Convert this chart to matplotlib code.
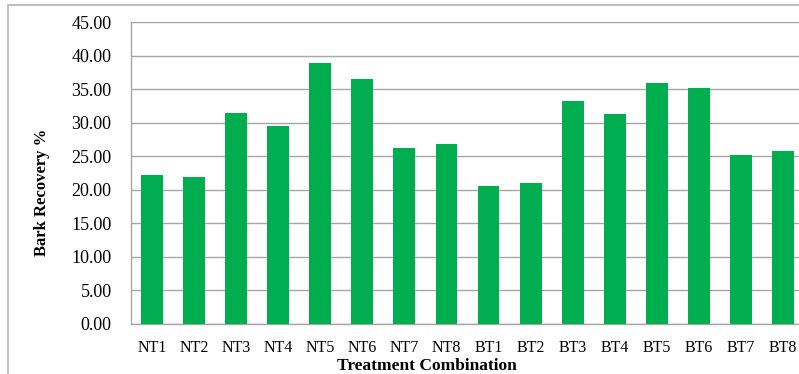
import matplotlib.pyplot as plt
from matplotlib.patches import Rectangle

# Bark recovery (%) per treatment combination
treatments = ['NT1', 'NT2', 'NT3', 'NT4', 'NT5', 'NT6', 'NT7', 'NT8',
              'BT1', 'BT2', 'BT3', 'BT4', 'BT5', 'BT6', 'BT7', 'BT8']
recovery = [22.19, 21.84, 31.45, 29.46, 38.97, 36.58, 26.27, 26.77,
            20.50, 20.99, 33.20, 31.30, 35.89, 35.24, 25.22, 25.72]
yticks = [0, 5, 10, 15, 20, 25, 30, 35, 40, 45]

plt.rcParams['font.family'] = ['Liberation Serif', 'DejaVu Serif']

fig = plt.figure(figsize=(7.99, 3.74), dpi=100)
ax = fig.add_axes([131 / 799, (374 - 323.5) / 374, 673 / 799, 301.2 / 374])

x = range(len(treatments))
ax.bar(x, recovery, width=0.52, color='#00ad4f', zorder=3)

ax.set_xlim(-0.5, len(treatments) - 0.5)
ax.set_ylim(0, 45)
ax.set_yticks(yticks)
ax.set_yticklabels([f'{v:.2f}' for v in yticks], fontsize=13)
ax.set_xticks(list(x))
ax.set_xticklabels(treatments, fontsize=11.5)
ax.tick_params(axis='both', length=0)
ax.tick_params(axis='y', pad=14)
ax.tick_params(axis='x', pad=12)
ax.grid(axis='y', color='#a6a6a6', lw=1, zorder=0)

for side in ['top', 'right']:
    ax.spines[side].set_visible(False)
for side in ['left', 'bottom']:
    ax.spines[side].set_color('#a6a6a6')
    ax.spines[side].set_linewidth(1)

ax.set_ylabel('Bark Recovery %', fontsize=12, fontweight='bold')
ax.yaxis.set_label_coords(-0.12, 0.437)
fig.text(427 / 799, 1 - 366 / 374, 'Treatment Combination', ha='center', va='center',
         fontsize=12.5, fontweight='bold')

# outer chart border (cut off on the right and bottom)
fig.patches.append(Rectangle((8 / 799, -0.1), 1.2, (374 - 5) / 374 + 0.1,
                             transform=fig.transFigure, fill=False,
                             edgecolor='#b4b4b4', lw=1.2))

fig.savefig('out.png', dpi=100)
